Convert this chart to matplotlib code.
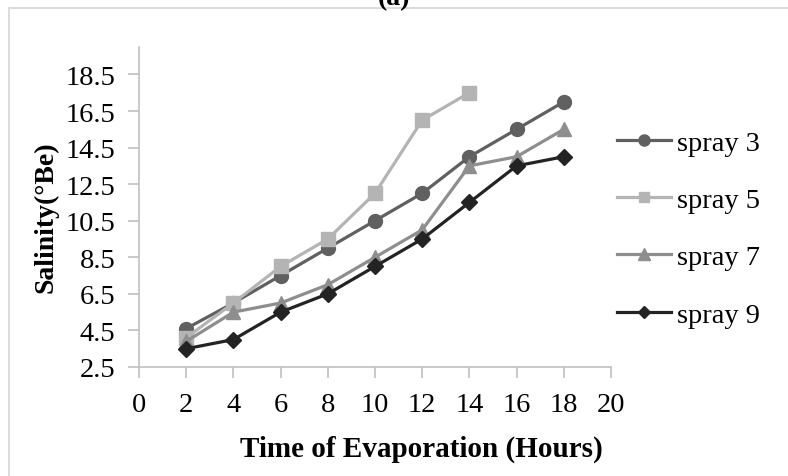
import matplotlib
matplotlib.use("Agg")
import matplotlib.pyplot as plt
from matplotlib.patches import Rectangle

hours = [2, 4, 6, 8, 10, 12, 14, 16, 18]
hours5 = [2, 4, 6, 8, 10, 12, 14]
spray3 = [4.6, 6.0, 7.5, 9.0, 10.5, 12.0, 14.0, 15.5, 17.0]
spray5 = [4.1, 6.0, 8.0, 9.5, 12.0, 16.0, 17.5]
spray7 = [3.9, 5.5, 6.0, 7.0, 8.5, 10.0, 13.5, 14.0, 15.5]
spray9 = [3.5, 4.0, 5.5, 6.5, 8.0, 9.5, 11.5, 13.5, 14.0]
yticks = [2.5, 4.5, 6.5, 8.5, 10.5, 12.5, 14.5, 16.5, 18.5]
xticks = [0, 2, 4, 6, 8, 10, 12, 14, 16, 18, 20]

plt.rcParams['font.family'] = ['Liberation Serif', 'DejaVu Serif']

W, H = 788, 477
fig = plt.figure(figsize=(W / 100, H / 100), dpi=100)

# outer frame
fig.patches.append(Rectangle((9 / W, -0.1), 1.5, 1 - 9 / H + 0.1, transform=fig.transFigure,
                             fill=False, edgecolor='#d9d9d9', linewidth=1.3))

ax = fig.add_axes([139 / W, 1 - 368 / H, 472 / W, 320 / H])

series = [
    (hours, spray3, 'spray 3', '#606060', 'o', 10),
    (hours5, spray5, 'spray 5', '#b4b4b4', 's', 9.5),
    (hours, spray7, 'spray 7', '#8e8e8e', '^', 10),
    (hours, spray9, 'spray 9', '#232323', 'D', 8),
]
for x, y, lab, c, m, ms in series:
    ax.plot(x, y, color=c, marker=m, markersize=ms, linewidth=2.3, label=lab,
            markeredgecolor=c, clip_on=False)

ax.set_xlim(0, 20)
ax.set_ylim(2.5, 20)
ax.set_xticks(xticks)
ax.set_yticks(yticks)
ax.set_yticklabels([f"{v:.1f}" for v in yticks])

for s in ['top', 'right']:
    ax.spines[s].set_visible(False)
for s in ['left', 'bottom']:
    ax.spines[s].set_color('#c0c0c0')
    ax.spines[s].set_linewidth(1.2)

ax.tick_params(axis='both', direction='out', length=8, width=1.2, color='#c0c0c0',
               labelsize=20.5, labelcolor='black')
ax.tick_params(axis='y', pad=9)
ax.tick_params(axis='x', pad=10)

ax.set_ylabel('Salinity(°Be)', fontsize=20, fontweight='bold')
ax.yaxis.set_label_coords(-0.17, 0.47)
ax.set_xlabel('Time of Evaporation (Hours)', fontsize=21, fontweight='bold')
ax.xaxis.set_label_coords(0.598, -0.21)

fig.text(394 / W, 1 - 5 / H, '(a)', fontsize=20, fontweight='bold', ha='center', va='baseline')

leg = ax.legend(loc='upper left', bbox_to_anchor=(617 / W, 1 - 131 / H),
                bbox_transform=fig.transFigure, frameon=False, fontsize=20.5,
                handlelength=1.9, handletextpad=0.2, labelspacing=1.1,
                borderpad=0, borderaxespad=0, markerscale=0.8)

fig.savefig('out.png', dpi=100)
